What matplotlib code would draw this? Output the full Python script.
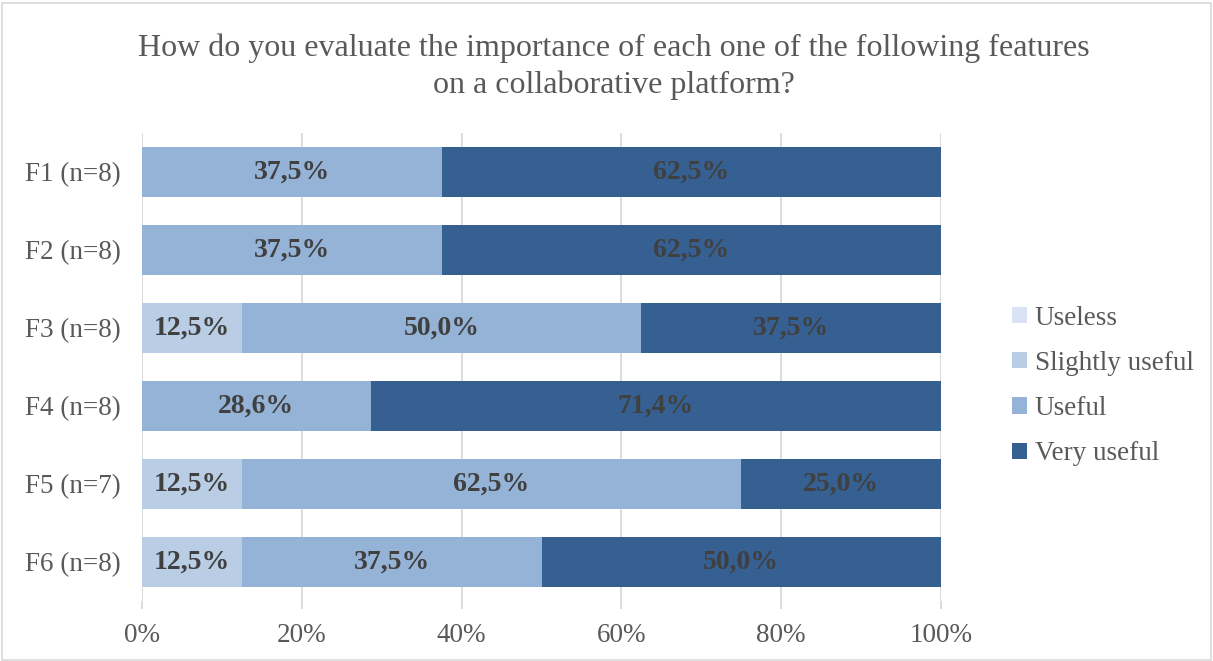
import matplotlib.pyplot as plt
from matplotlib.patches import Rectangle

categories = ['F1 (n=8)', 'F2 (n=8)', 'F3 (n=8)', 'F4 (n=8)', 'F5 (n=7)', 'F6 (n=8)']
series = ['Useless', 'Slightly useful', 'Useful', 'Very useful']
useless = [0, 0, 0, 0, 0, 0]
slightly_useful = [0, 0, 12.5, 0, 12.5, 12.5]
useful = [37.5, 37.5, 50.0, 28.6, 62.5, 37.5]
very_useful = [62.5, 62.5, 37.5, 71.4, 25.0, 50.0]

colors = ['#dae3f3', '#b9cde5', '#95b3d7', '#366092']

plt.rcParams['font.family'] = ['Liberation Serif', 'DejaVu Serif']

fig = plt.figure(figsize=(12.13, 6.61), dpi=100)
ax = fig.add_axes([0.1171, 0.0908, 0.6587, 0.708])

values = [useless, slightly_useful, useful, very_useful]
ypos = list(range(len(categories)))
left = [0.0] * len(categories)
for name, vals, col in zip(series, values, colors):
    ax.barh(ypos, vals, left=left, height=0.64, color=col, label=name, zorder=2)
    for i, v in enumerate(vals):
        if v > 0:
            ax.text(left[i] + v / 2, ypos[i], f'{v:.1f}%'.replace('.', ','),
                    ha='center', va='center', fontsize=20, fontweight='bold',
                    color='#404040', zorder=3)
    left = [l + v for l, v in zip(left, vals)]

ax.set_xlim(0, 100)
ax.set_ylim(len(categories) - 0.5, -0.5)
ax.set_yticks(ypos)
ax.set_yticklabels(categories)
ax.set_xticks([0, 20, 40, 60, 80, 100])
ax.set_xticklabels(['0%', '20%', '40%', '60%', '80%', '100%'])
ax.grid(axis='x', color='#d9d9d9', linewidth=1.3, zorder=0)
for s in ax.spines.values():
    s.set_visible(False)
ax.tick_params(axis='y', length=0, labelsize=19.5, labelcolor='#595959', pad=15.5)
ax.tick_params(axis='x', length=6, color='#d9d9d9', width=1.3, labelsize=19.5,
               labelcolor='#595959', pad=10)

fig.suptitle('How do you evaluate the importance of each one of the following features\n'
             'on a collaborative platform?', x=0.506, y=0.95, fontsize=23,
             color='#595959', linespacing=1.35)

fig.legend(loc='center left', bbox_to_anchor=(0.814, 0.416), frameon=False,
           fontsize=19.5, labelcolor='#595959', handlelength=0.55, handleheight=0.55,
           handletextpad=0.3, labelspacing=0.75)

fig.patches.append(Rectangle((0.002, 0.002), 0.996, 0.993, transform=fig.transFigure,
                             fill=False, edgecolor='#d9d9d9', linewidth=1.2))

fig.savefig('out.png', dpi=100)
